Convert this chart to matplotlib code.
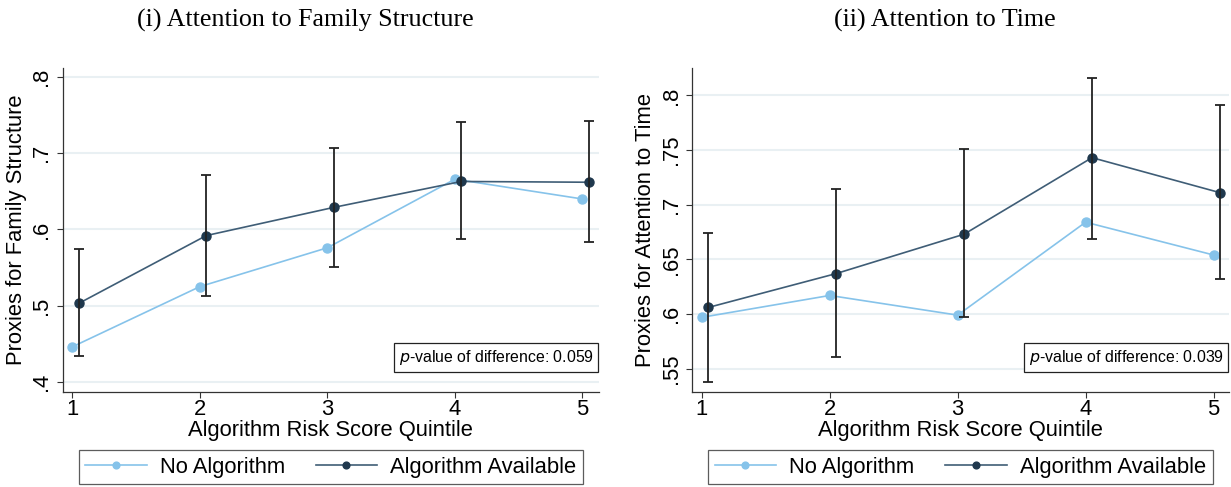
import numpy as np
import matplotlib
matplotlib.use("Agg")
import matplotlib.pyplot as plt

quintiles = [1, 2, 3, 4, 5]

# (i) family structure
fam_no_algo = [0.446, 0.525, 0.576, 0.666, 0.640]
fam_algo = [0.503, 0.592, 0.629, 0.663, 0.662]
fam_ci_lo = [0.434, 0.513, 0.551, 0.587, 0.583]
fam_ci_hi = [0.574, 0.671, 0.707, 0.741, 0.742]
fam_pval = "0.059"

# (ii) time
time_no_algo = [0.597, 0.617, 0.599, 0.684, 0.654]
time_algo = [0.606, 0.637, 0.673, 0.743, 0.711]
time_ci_lo = [0.538, 0.561, 0.597, 0.669, 0.632]
time_ci_hi = [0.674, 0.714, 0.751, 0.816, 0.791]
time_pval = "0.039"

LIGHT = "#86c3ea"
DARK_LINE = "#3f5d76"
DARK_MARK = "#1f384d"
FS = 15.8

plt.rcParams['font.family'] = ['Liberation Sans', 'DejaVu Sans']

fig = plt.figure(figsize=(12.31, 4.87), dpi=100)
ax1 = fig.add_axes([0.0509, 0.1957, 0.4357, 0.6647])
ax2 = fig.add_axes([0.5621, 0.1957, 0.4362, 0.6647])


def draw(ax, no_algo, algo, lo, hi, pval, ylabel, yticks, ylabels, ylim, xlim):
    x = np.array(quintiles, dtype=float)
    xd = x + 0.05
    algo = np.array(algo)
    yerr = [algo - np.array(lo), np.array(hi) - algo]
    ax.yaxis.grid(True, color="#e9f0f3", lw=1.5)
    ax.set_axisbelow(True)
    ax.plot(x, no_algo, color=LIGHT, lw=1.2, marker="o", ms=6.5,
            mfc=LIGHT, mec=LIGHT, label="No Algorithm", zorder=3)
    ax.plot(xd, algo, color=DARK_LINE, lw=1.2, marker="o", ms=6.5,
            mfc=DARK_MARK, mec=DARK_MARK, label="Algorithm Available", zorder=4)
    ax.errorbar(xd, algo, yerr=yerr, fmt="none", ecolor="#222222",
                elinewidth=1.3, capsize=3.5, capthick=1.3, zorder=5)
    ax.set_xlim(*xlim)
    ax.set_ylim(*ylim)
    ax.set_xticks(quintiles)
    ax.set_yticks(yticks)
    ax.set_yticklabels(ylabels, rotation=90, va="center")
    ax.tick_params(labelsize=FS, length=4, width=0.8, color="#333333")
    ax.tick_params(axis="x", pad=1)
    for s in ["top", "right"]:
        ax.spines[s].set_visible(False)
    for s in ["left", "bottom"]:
        ax.spines[s].set_linewidth(0.9)
        ax.spines[s].set_color("#333333")
    ax.set_xlabel("Algorithm Risk Score Quintile", fontsize=FS, labelpad=0)
    ax.set_ylabel(ylabel, fontsize=FS, labelpad=3)
    ax.text(0.99, 0.105, r"$\it{p}$-value of difference: " + pval,
            transform=ax.transAxes, ha="right", va="center", fontsize=11.4,
            bbox=dict(boxstyle="square,pad=0.3", fc="white", ec="#222222", lw=0.9))
    leg = ax.legend(loc="center", bbox_to_anchor=(0.5, -0.233), ncol=2,
                    fontsize=FS, handlelength=2.8, markerscale=0.75,
                    columnspacing=1.4, handletextpad=0.6, frameon=True,
                    fancybox=False, borderpad=0.3, edgecolor="#333333")
    leg.get_frame().set_linewidth(0.9)


draw(ax1, fam_no_algo, fam_algo, fam_ci_lo, fam_ci_hi, fam_pval,
     "Proxies for Family Structure",
     [0.4, 0.5, 0.6, 0.7, 0.8], [".4", ".5", ".6", ".7", ".8"],
     (0.387, 0.812), (0.923, 5.13))
draw(ax2, time_no_algo, time_algo, time_ci_lo, time_ci_hi, time_pval,
     "Proxies for Attention to Time",
     [0.55, 0.6, 0.65, 0.7, 0.75, 0.8], [".55", ".6", ".65", ".7", ".75", ".8"],
     (0.529, 0.825), (0.923, 5.12))

fig.text(305 / 1231, 1 - 20 / 487, "(i) Attention to Family Structure",
         ha="center", va="center", fontsize=18.7, family="Liberation Serif")
fig.text(945 / 1231, 1 - 20 / 487, "(ii) Attention to Time",
         ha="center", va="center", fontsize=18.7, family="Liberation Serif")

fig.savefig("out.png", dpi=100)
